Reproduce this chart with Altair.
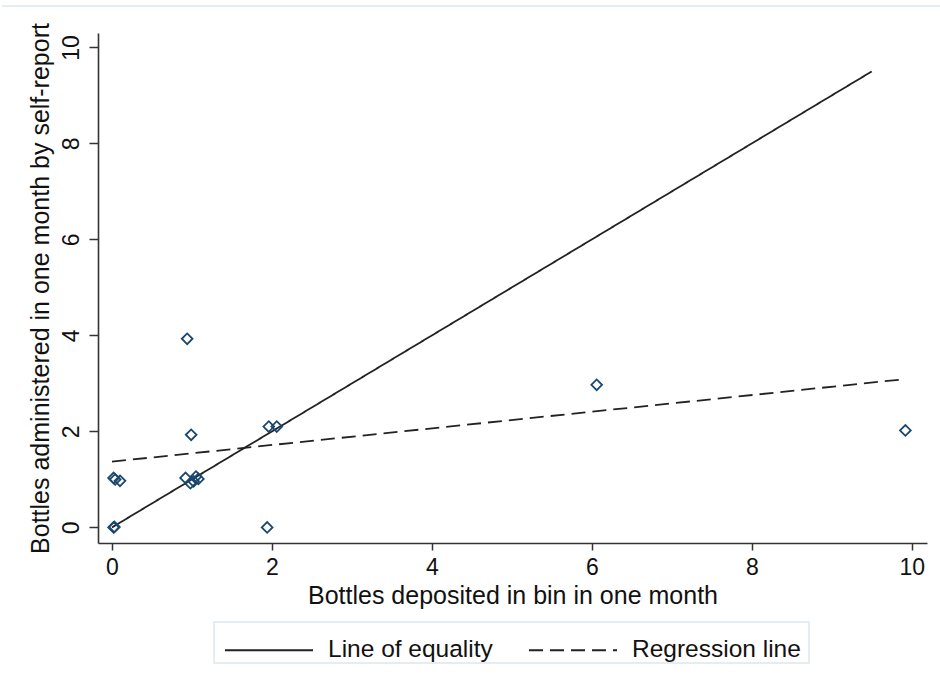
import altair as alt
import pandas as pd

# Bottles per participant: bin count vs. self-reported count
deposited = [0.02, 0.03, 0.02, 0.04, 0.10, 0.94, 0.99, 0.92, 0.98, 1.05, 1.08, 1.02, 1.96, 2.06, 1.94, 6.06, 9.92]
self_report = [0.00, 0.01, 1.03, 1.00, 0.97, 3.93, 1.93, 1.03, 0.92, 1.06, 1.01, 0.96, 2.10, 2.10, 0.00, 2.97, 2.02]

# Reference lines (end points)
equality_x = [0.0, 9.5]
equality_y = [0.0, 9.5]
regression_x = [0.0, 9.92]
regression_y = [1.37, 3.09]

series_names = ["Line of equality", "Regression line"]
x_ticks = [0, 2, 4, 6, 8, 10]
y_ticks = [0, 2, 4, 6, 8, 10]

points = pd.DataFrame({"deposited": deposited, "self_report": self_report})
lines = pd.DataFrame({
    "deposited": equality_x + regression_x,
    "self_report": equality_y + regression_y,
    "series": [series_names[0]] * 2 + [series_names[1]] * 2,
})

FONT = "Liberation Sans"
INK = "#222222"
TEXT = "#111111"

x_scale = alt.Scale(domain=[-0.175, 10.19], nice=False, zero=False)
y_scale = alt.Scale(domain=[-0.325, 10.3], nice=False, zero=False)

x_axis = alt.Axis(
    title="Bottles deposited in bin in one month", values=x_ticks, format="d",
    tickSize=7, labelPadding=6, titlePadding=4, labelFlush=False,
)
y_axis = alt.Axis(
    title="Bottles administered in one month by self-report", values=y_ticks, format="d",
    tickSize=9, labelAngle=270, labelAlign="center", labelBaseline="bottom",
    labelPadding=6, titlePadding=7, labelFlush=False,
)

scatter = alt.Chart(points).mark_point(
    shape="diamond", filled=False, size=115, strokeWidth=1.8, color="#1a476f", opacity=1
).encode(
    x=alt.X("deposited:Q", scale=x_scale, axis=x_axis),
    y=alt.Y("self_report:Q", scale=y_scale, axis=y_axis),
)

ref_lines = alt.Chart(lines).mark_line(color=INK, strokeWidth=1.8).encode(
    x=alt.X("deposited:Q", scale=x_scale),
    y=alt.Y("self_report:Q", scale=y_scale),
    detail="series:N",
    strokeDash=alt.StrokeDash(
        "series:N",
        scale=alt.Scale(domain=series_names, range=[[1, 0], [14, 7]]),
        legend=alt.Legend(
            title=None, orient="none", legendX=126, legendY=572, direction="horizontal",
            symbolType="stroke", symbolSize=7744, symbolStrokeWidth=1.8,
            symbolStrokeColor=INK, labelFontSize=24.5, labelFont=FONT, labelColor=TEXT,
            labelLimit=0, labelOffset=14, columnPadding=32, padding=0,
        ),
    ),
)

# legend frame
legend_box = alt.Chart(alt.Data(values=[{"k": 1}])).mark_rect(
    fill="white", stroke="#dde6ee", strokeWidth=1.5
).encode(x=alt.value(116), x2=alt.value(711), y=alt.value(589), y2=alt.value(630))

# light frame edge across the top of the graph region
frame_top = alt.Chart(alt.Data(values=[{"k": 1}])).mark_rule(
    color="#e6edf2", strokeWidth=2
).encode(x=alt.value(-96), x2=alt.value(842), y=alt.value(-27))

chart = alt.layer(legend_box, ref_lines, scatter, frame_top).properties(
    width=829, height=510,
    autosize=alt.AutoSizeParams(type="none"),
    padding={"left": 98, "top": 33, "right": 13, "bottom": 148},
    background="white",
).configure_view(stroke=None).configure_axis(
    grid=False, domainColor="#333", domainWidth=1.6, tickColor="#333", tickWidth=1.5,
    labelFont=FONT, labelFontSize=23, labelColor=TEXT,
    titleFont=FONT, titleFontSize=25, titleFontWeight="normal", titleColor=TEXT,
)

chart.save("out.html", embed_options={"renderer": "svg", "actions": False})
